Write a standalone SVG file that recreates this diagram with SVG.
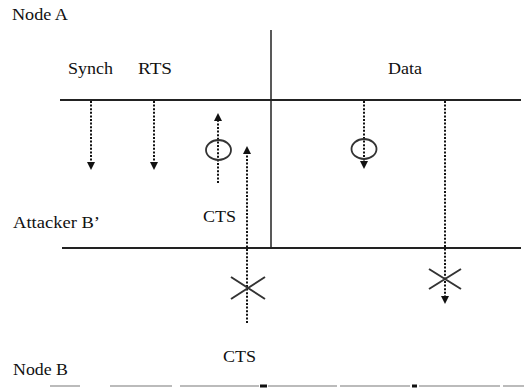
<svg xmlns="http://www.w3.org/2000/svg" width="524" height="388" viewBox="0 0 524 388">
<style>
.lb text{font-family:"Liberation Serif","Times New Roman",serif;font-size:17px;fill:#111}
.tl{stroke:#222;stroke-width:2;fill:none}
.dot{stroke:#111;stroke-width:2;stroke-dasharray:2 1.6;fill:none}
.ring{stroke:#333;stroke-width:1.8;fill:none}
.x{stroke:#333;stroke-width:2;fill:none}
</style>
<defs>
<marker id="ah" viewBox="0 0 10 10" refX="5" refY="5" markerWidth="4" markerHeight="4" orient="auto-start-reverse" markerUnits="strokeWidth">
<path d="M0,0 L10,5 L0,10 z" fill="#111"/>
</marker>
</defs>
<rect width="524" height="388" fill="#fff"/>
<g id="labels" class="lb">
<text x="12" y="20" textLength="56" lengthAdjust="spacingAndGlyphs">Node A</text>
<text x="68" y="74" textLength="45" lengthAdjust="spacingAndGlyphs">Synch</text>
<text x="138" y="74" textLength="34" lengthAdjust="spacingAndGlyphs">RTS</text>
<text x="388" y="74" textLength="34" lengthAdjust="spacingAndGlyphs">Data</text>
<text x="203" y="222" textLength="33" lengthAdjust="spacingAndGlyphs">CTS</text>
<text x="13" y="228" textLength="87" lengthAdjust="spacingAndGlyphs">Attacker B’</text>
<text x="223" y="362" textLength="33" lengthAdjust="spacingAndGlyphs">CTS</text>
<text x="13" y="375" textLength="55" lengthAdjust="spacingAndGlyphs">Node B</text>
</g>
<g id="timelines">
<line class="tl" x1="60" y1="100" x2="521" y2="100"/>
<line class="tl" x1="62" y1="248" x2="521" y2="248"/>
<line x1="271" y1="30" x2="271" y2="248" stroke="#222" stroke-width="1.5"/>
<path d="M50,386H80M110,386H172M180,386H259M268,386H337M340,386H410M419,386H500M503,386H524" stroke="#bbb" stroke-width="2" fill="none"/>
<path d="M260,386H267M412,386H417" stroke="#111" stroke-width="3" fill="none"/>
</g>
<g id="connectors">
<line class="dot" x1="91" y1="101" x2="91" y2="166" marker-end="url(#ah)"/>
<line class="dot" x1="154" y1="101" x2="154" y2="166" marker-end="url(#ah)"/>
<line class="dot" x1="218" y1="183" x2="218" y2="117" marker-end="url(#ah)"/>
<line class="dot" x1="247" y1="323" x2="247" y2="150" marker-end="url(#ah)"/>
<line class="dot" x1="364" y1="101" x2="364" y2="165" marker-end="url(#ah)"/>
<line class="dot" x1="445" y1="101" x2="445" y2="300" marker-end="url(#ah)"/>
</g>
<g id="marks">
<ellipse class="ring" cx="218.5" cy="150" rx="12.5" ry="10"/>
<ellipse class="ring" cx="364" cy="149" rx="12.5" ry="10"/>
<path class="x" d="M231,277L265,299M231,299L265,277"/>
<path class="x" d="M429,269L461,289M429,289L461,269"/>
</g>
</svg>
